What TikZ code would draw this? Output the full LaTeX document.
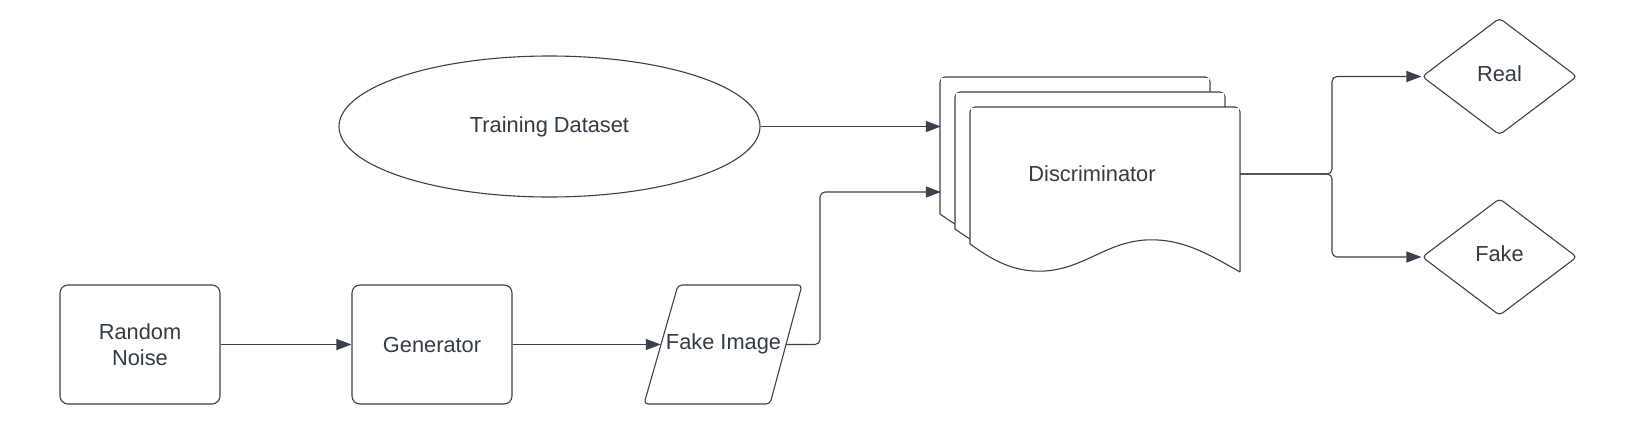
\documentclass[tikz,border=0pt]{standalone}
\usepackage{fontspec}
\setmainfont{Liberation Sans}
\usetikzlibrary{shapes.geometric,arrows.meta}
\definecolor{lc}{HTML}{3A414A}
\definecolor{tc}{HTML}{333B45}
\tikzset{
  every node/.style={font=\fontsize{21.8}{26}\selectfont, text=tc},
  shp/.style={draw=lc, line width=1.1pt, fill=white},
  boxn/.style={shp, rounded corners=8pt, minimum width=160pt, minimum height=119pt, align=center, inner sep=0pt},
  decn/.style={shp, diamond, rounded corners=4pt, minimum width=155pt, minimum height=117pt, inner sep=0pt, text depth=6pt},
  conn/.style={draw=lc, line width=1.1pt, rounded corners=5pt, -{Triangle[length=15pt,width=11pt]}},
  wire/.style={draw=lc, line width=1.1pt, rounded corners=5pt}
}
\begin{document}
\begin{tikzpicture}[x=1pt,y=-1pt]
\useasboundingbox (0,0) rectangle (1640,445);
% nodes
\node[boxn] (rn) at (140,344.5) {Random\\Noise};
\node[boxn] (gen) at (432,344.5) {Generator};
\node[shp, ellipse, minimum width=421pt, minimum height=141pt, inner sep=0pt] (td) at (549.5,126.5) {Training Dataset};
% fake image parallelogram
\node[inner sep=0pt, minimum width=125pt, minimum height=119pt] (fi) at (723.5,344.5) {};
\draw[shp, rounded corners=4pt] (678,285) -- (802,285) -- (770,404) -- (644,404) -- cycle;
\node[text depth=6pt] at (fi.center) {Fake Image};
% discriminator pages
\foreach \d in {30,15,0}{
  \draw[shp, rounded corners=5pt, shift={(-\d,-\d)}]
    (970,244) -- (970,107) -- (1240,107) -- (1240,272);
  \fill[white, shift={(-\d,-\d)}]
    (971,244) -- (971,108) -- (1239,108) -- (1239,272)
    .. controls (1205,252) and (1180,238) .. (1145,240)
    .. controls (1105,243) and (1085,268) .. (1045,271)
    .. controls (1012,273) and (990,258) .. (971,244) -- cycle;
  \draw[draw=lc, line width=1.1pt, shift={(-\d,-\d)}]
    (1240,272)
    .. controls (1205,252) and (1180,238) .. (1145,240)
    .. controls (1105,243) and (1085,268) .. (1045,271)
    .. controls (1012,273) and (990,258) .. (970,244);
}
\node[inner sep=0pt, minimum width=270pt, minimum height=137pt] (disc) at (1105,175.5) {};
\node[inner sep=0pt, minimum width=269pt, minimum height=138pt] (dback) at (1075.5,146) {};
\node (dtext) at (1092,174) {Discriminator};
% decisions
\node[decn] (real) at (1499.5,76.5) {Real};
\node[decn] (fake) at (1499.5,257) {Fake};
% connectors
\coordinate (split) at (1332,174);
\coordinate (bend) at (820,192);
\draw[conn] (rn.east) -- (gen.west);
\draw[conn] (gen.east) -- (fi.west);
\draw[conn] (td.east) -- (td.east -| dback.west);
\draw[conn] (fi.east) -| (bend) -- (bend -| dback.west);
\draw[conn] (disc.east |- split) -- (split) |- (real.west);
\draw[conn] (disc.east |- split) -- (split) |- (fake.west);
\end{tikzpicture}
\end{document}
